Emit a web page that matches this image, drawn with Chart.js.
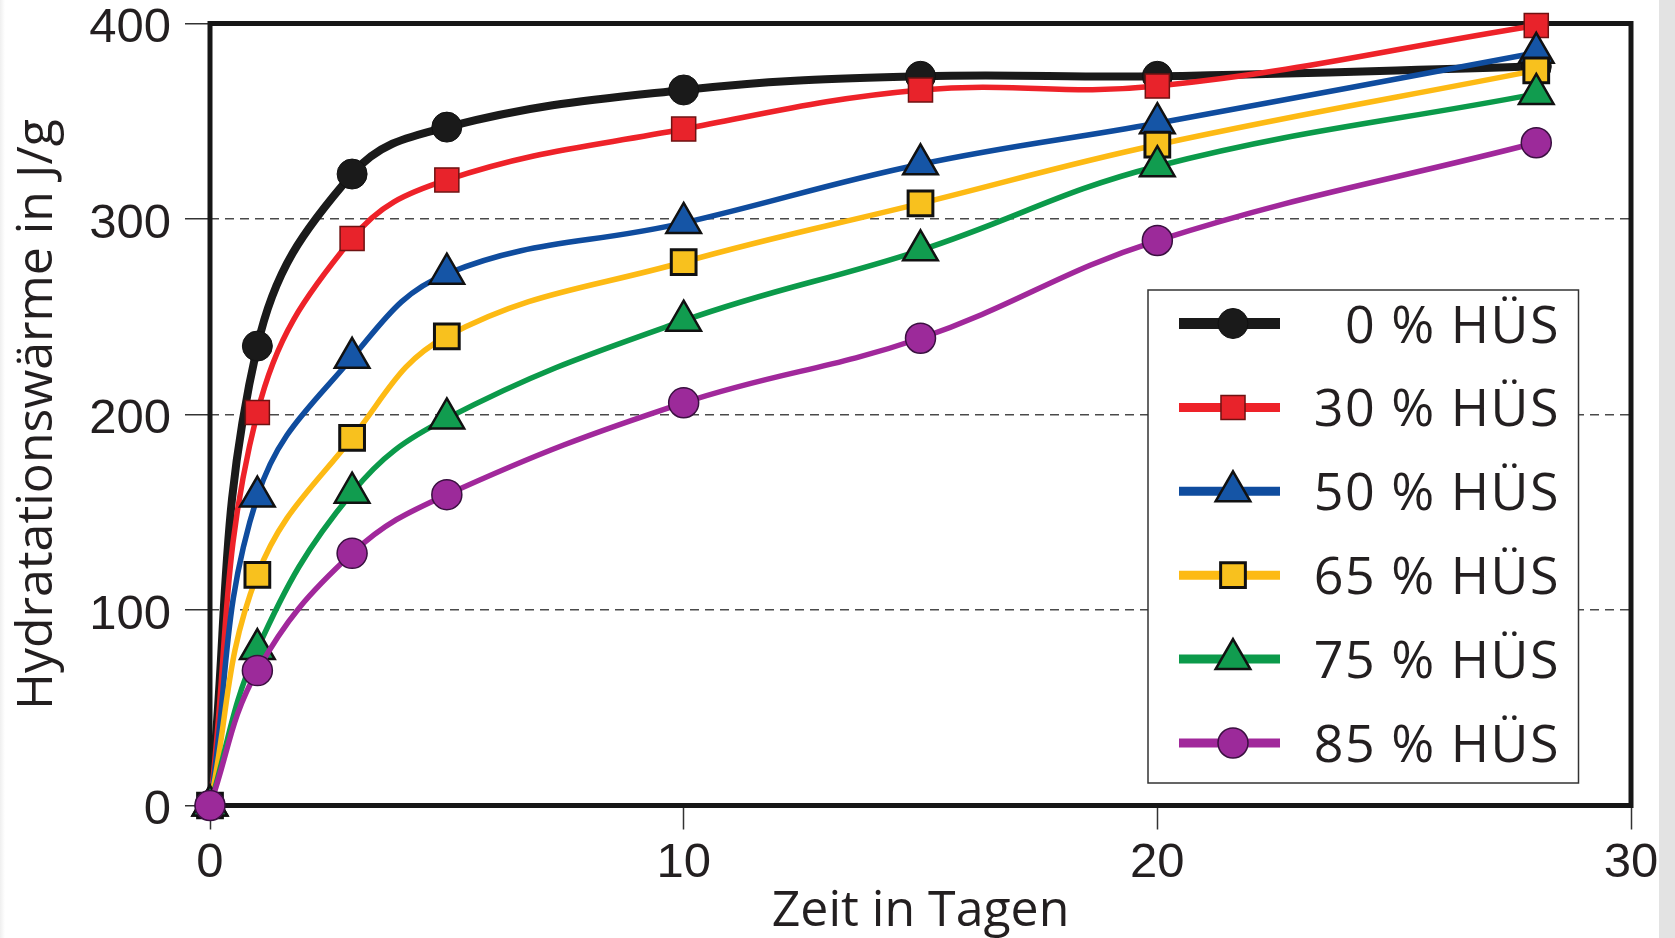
<!DOCTYPE html>
<html>
<head>
<meta charset="utf-8">
<script src="https://cdn.jsdelivr.net/npm/chart.js@4.4.1/dist/chart.umd.min.js"></script>
<style>
  html, body { margin: 0; padding: 0; background: #fff; }
  .chart {
    width: 1675px; height: 938px;
    background: linear-gradient(to right, #efefef 0px, #fff 5px, #fff 1659px, #e3e3e3 1659px);
  }
</style>
</head>
<body>
<div class="chart"><canvas id="chart"></canvas></div>
<script>
// Zeit in Tagen
const days = [0, 1, 3, 5, 10, 15, 20, 28];

// Hydratationswärme in J/g
const hus0  = [0, 235, 323, 347, 366, 373, 373, 378];
const hus30 = [0, 201, 290, 320, 346, 366, 368, 399];
const hus50 = [0, 158, 229, 272, 298, 328, 349, 385];
const hus65 = [0, 118, 188, 240, 278, 308, 338, 376];
const hus75 = [0, 80, 160, 198, 248, 284, 327, 364];
const hus85 = [0, 69, 129, 159, 206, 239, 289, 339];

const seriesLabels = ['0 % HÜS', '30 % HÜS', '50 % HÜS', '65 % HÜS', '75 % HÜS', '85 % HÜS'];
const xTicks = [0, 10, 20, 30];
const yTicks = [0, 100, 200, 300, 400];

const toPoints = (vals) => vals.map((v, i) => ({ x: days[i], y: v }));

const styles = [
  { line: '#1a1a1a', fill: '#1a1a1a', border: '#111', style: 'circle',   r: 15, bw: 1,   lw: 8,   legLw: 11 },
  { line: '#ee2229', fill: '#e8232b', border: '#6e1212', style: 'rect',   r: 17, bw: 1.5, lw: 5.5, legLw: 9 },
  { line: '#0f4c9e', fill: '#1555a6', border: '#111', style: 'triangle', r: 20, bw: 2.5, lw: 5.5, legLw: 9 },
  { line: '#fdba14', fill: '#f8c11e', border: '#111', style: 'rect',     r: 17.5, bw: 3, lw: 5.5, legLw: 9 },
  { line: '#0b9a4a', fill: '#119c4f', border: '#111', style: 'triangle', r: 20, bw: 2.5, lw: 5.5, legLw: 9 },
  { line: '#a1289b', fill: '#9c2a9a', border: '#3a1040', style: 'circle', r: 15, bw: 1.5, lw: 5.5, legLw: 9 },
];

const allSeries = [hus0, hus30, hus50, hus65, hus75, hus85];

const datasets = allSeries.map((vals, i) => ({
  label: seriesLabels[i],
  data: toPoints(vals),
  borderColor: styles[i].line,
  borderWidth: styles[i].lw,
  backgroundColor: styles[i].fill,
  pointStyle: styles[i].style,
  pointRadius: styles[i].r,
  pointBackgroundColor: styles[i].fill,
  pointBorderColor: styles[i].border,
  pointBorderWidth: styles[i].bw,
  tension: 0.4,
  fill: false,
  clip: false,
  order: allSeries.length - 1 - i, // later series drawn on top
}));

// thick frame round the plot area
const framePlugin = {
  id: 'frame',
  beforeDatasetsDraw(chart) {
    const { ctx, chartArea: a } = chart;
    ctx.save();
    ctx.strokeStyle = '#161616';
    ctx.lineWidth = 5;
    ctx.strokeRect(a.left, a.top, a.right - a.left, a.bottom - a.top);
    ctx.restore();
  }
};

// boxed legend inside the plot, text right aligned
const boxLegend = {
  id: 'boxLegend',
  afterDatasetsDraw(chart) {
    const { ctx } = chart;
    const box = { left: 1148, top: 290, right: 1578.5, bottom: 783 };
    ctx.save();
    ctx.fillStyle = '#fff';
    ctx.fillRect(box.left, box.top, box.right - box.left, box.bottom - box.top);
    ctx.strokeStyle = '#333';
    ctx.lineWidth = 1.5;
    ctx.strokeRect(box.left, box.top, box.right - box.left, box.bottom - box.top);

    chart.data.datasets.forEach((ds, i) => {
      const y = 323.5 + i * 83.9;
      ctx.strokeStyle = ds.borderColor;
      ctx.lineWidth = styles[i].legLw;
      ctx.lineCap = 'butt';
      ctx.beginPath();
      ctx.moveTo(1179, y);
      ctx.lineTo(1280, y);
      ctx.stroke();

      ctx.fillStyle = ds.pointBackgroundColor;
      ctx.strokeStyle = ds.pointBorderColor;
      ctx.lineWidth = ds.pointBorderWidth;
      Chart.helpers.drawPoint(ctx, {
        pointStyle: ds.pointStyle,
        radius: ds.pointRadius,
        borderWidth: ds.pointBorderWidth,
        rotation: 0
      }, 1233, y);

      ctx.fillStyle = '#231f20';
      ctx.font = '52px "Open Sans"';
      ctx.letterSpacing = '1.5px';
      ctx.textAlign = 'right';
      ctx.textBaseline = 'alphabetic';
      ctx.fillText(ds.label, 1560, y + 19);
      ctx.letterSpacing = '0px';
    });
    ctx.restore();
  }
};

const ctx = document.getElementById('chart').getContext('2d');
new Chart(ctx, {
  type: 'line',
  data: { datasets },
  options: {
    responsive: true,
    maintainAspectRatio: false,
    animation: false,
    devicePixelRatio: 1,
    layout: { padding: { top: 23.5, right: 44, left: 0, bottom: 0 } },
    plugins: {
      legend: { display: false },
      tooltip: { enabled: false },
      title: { display: false },
    },
    scales: {
      x: {
        type: 'linear',
        min: xTicks[0],
        max: xTicks[xTicks.length - 1],
        afterBuildTicks: (scale) => { scale.ticks = xTicks.map(v => ({ value: v })); },
        afterFit: (scale) => { scale.height = 132.5; scale.paddingLeft = 0; scale.paddingRight = 0; },
        border: { display: false },
        grid: {
          drawOnChartArea: false,
          drawTicks: true,
          tickLength: 24,
          tickColor: '#333',
          tickWidth: 1.5,
        },
        ticks: {
          padding: 9,
          color: '#231f20',
          font: { family: '"Liberation Sans", Arial, sans-serif', size: 49, lineHeight: 1 },
          maxRotation: 0,
        },
        title: {
          display: true,
          text: 'Zeit in Tagen',
          color: '#231f20',
          font: { family: '"Open Sans", sans-serif', size: 50, lineHeight: 1 },
          padding: { top: 0, bottom: 1 },
        },
      },
      y: {
        min: yTicks[0],
        max: yTicks[yTicks.length - 1],
        afterBuildTicks: (scale) => { scale.ticks = yTicks.map(v => ({ value: v })); },
        afterFit: (scale) => { scale.width = 210; scale.paddingTop = 0; scale.paddingBottom = 0; },
        border: { display: false, dash: [9, 6] },
        grid: {
          color: (c) => (c.tick && (c.tick.value === 0 || c.tick.value === 400)) ? 'rgba(0,0,0,0)' : '#4a4a4a',
          lineWidth: 1.5,
          drawTicks: true,
          tickLength: 25,
          tickColor: '#333',
          tickWidth: 1.5,
          tickBorderDash: [],
        },
        ticks: {
          padding: 14,
          labelOffset: 5,
          color: '#231f20',
          font: { family: '"Liberation Sans", Arial, sans-serif', size: 49, lineHeight: 1 },
        },
        title: {
          display: true,
          text: 'Hydratationswärme in J/g',
          color: '#231f20',
          font: { family: '"Open Sans", sans-serif', size: 50, lineHeight: 1 },
          padding: { top: 13, bottom: 0 },
        },
      },
    },
  },
  plugins: [framePlugin, boxLegend],
});
</script>
</body>
</html>
